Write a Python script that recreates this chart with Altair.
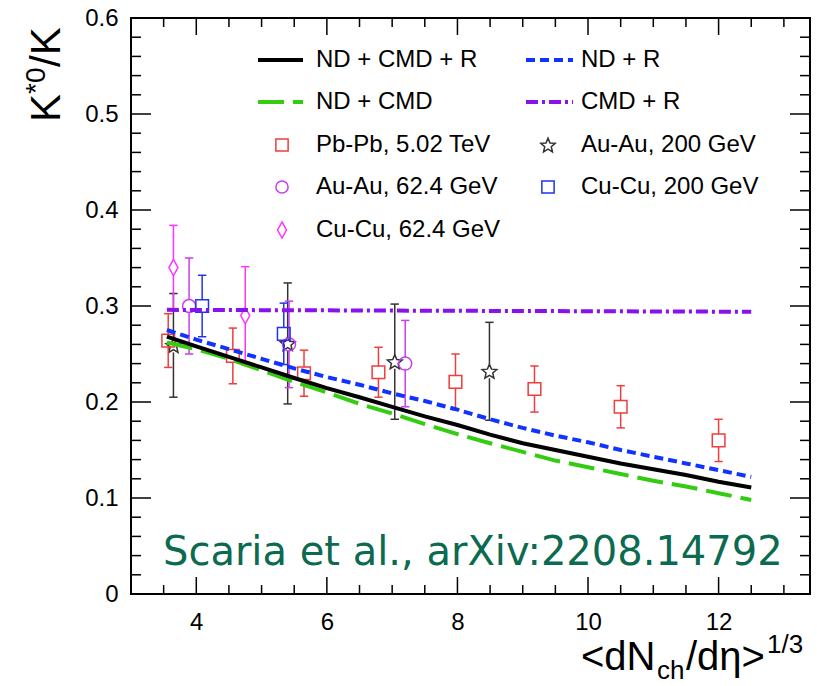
import math
import altair as alt
import pandas as pd

# ---------------- data ----------------
pbpb_x = [3.57, 4.56, 5.65, 6.79, 7.97, 9.18, 10.50, 12.00]
pbpb_y = [0.264, 0.248, 0.230, 0.231, 0.221, 0.2135, 0.195, 0.160]
pbpb_e = [0.028, 0.029, 0.024, 0.026, 0.029, 0.024, 0.022, 0.022]

auau200_x = [3.65, 5.40, 7.04, 8.49]
auau200_y = [0.259, 0.261, 0.242, 0.232]
auau200_e = [0.054, 0.063, 0.060, 0.051]

auau62_x = [3.89, 5.42, 7.20]
auau62_y = [0.300, 0.260, 0.240]
auau62_e = [0.050, 0.045, 0.045]

cucu62_x = [3.65, 4.75]
cucu62_y = [0.340, 0.290]
cucu62_e = [0.044, 0.051]

cucu200_x = [4.09, 5.34]
cucu200_y = [0.300, 0.271]
cucu200_e = [0.032, 0.032]

model_x = [3.55, 4.0, 4.5, 5.0, 5.5, 6.0, 6.5, 7.0, 7.5, 8.0, 8.5, 9.0, 9.5,
           10.0, 10.5, 11.0, 11.5, 12.0, 12.5]
nd_cmd_r = [0.268, 0.258, 0.247, 0.236, 0.225, 0.2145, 0.205, 0.195, 0.185,
            0.176, 0.166, 0.157, 0.150, 0.143, 0.136, 0.130, 0.124, 0.117, 0.111]
nd_r = [0.275, 0.265, 0.255, 0.245, 0.235, 0.226, 0.218, 0.209, 0.201,
        0.192, 0.182, 0.173, 0.165, 0.158, 0.150, 0.143, 0.136, 0.129, 0.122]
nd_cmd = [0.262, 0.255, 0.245, 0.233, 0.221, 0.210, 0.198, 0.188, 0.177,
          0.1665, 0.157, 0.148, 0.139, 0.132, 0.125, 0.118, 0.112, 0.105, 0.098]
cmd_r_x = [3.55, 12.5]
cmd_r = [0.296, 0.294]

x_major = [4, 6, 8, 10, 12]
x_minor = [3.5, 4.5, 5, 5.5, 6.5, 7, 7.5, 8.5, 9, 9.5, 10.5, 11, 11.5, 12.5, 13]
y_major = [0.0, 0.1, 0.2, 0.3, 0.4, 0.5, 0.6]
y_minor = [0.02, 0.04, 0.06, 0.08, 0.12, 0.14, 0.16, 0.18, 0.22, 0.24, 0.26,
           0.28, 0.32, 0.34, 0.36, 0.38, 0.42, 0.44, 0.46, 0.48, 0.52, 0.54,
           0.56, 0.58]

# ---------------- layout / style ----------------
W, H = 679, 576
FONT = "Liberation Sans"
xsc = alt.Scale(domain=[3, 13.4], nice=False, zero=False)
ysc = alt.Scale(domain=[0, 0.6], nice=False, zero=False)

AX = alt.Axis(values=x_major, ticks=False, domain=False, grid=False,
              labelFont=FONT, labelFontSize=24, labelColor="black",
              labelPadding=16, labelFlush=False, title=None)
AY = alt.Axis(values=y_major, format="~g", ticks=False, domain=False,
              grid=False, labelFont=FONT, labelFontSize=24, labelColor="black",
              labelPadding=13, labelFlush=False, title=None)

C_RED = "#f03c3c"
C_STAR = "#333333"
C_VIO = "#c83ef0"
C_MAG = "#ff33ff"
C_BLUE_SQ = "#2233ee"
C_BLACK = "#000000"
C_BLUE = "#1133ff"
C_GREEN = "#33cc11"
C_PURPLE = "#8811ee"

DASH_BLUE = [9, 5]
DASH_GREEN = [26, 9]
DASH_PURPLE = [12, 4, 3, 4]


def star_path(inner=0.45):
    pts = []
    for k in range(10):
        r = 1.0 if k % 2 == 0 else inner
        a = math.radians(-90 + 36 * k)
        pts.append((r * math.cos(a), r * math.sin(a) + 0.09))
    return "M" + "L".join(f"{px:.3f},{py:.3f}" for px, py in pts) + "Z"


STAR = star_path()
DIAMOND = "M0,-1L0.55,0L0,1L-0.55,0Z"

one = pd.DataFrame({"k": [0]})


def X(f):
    return alt.X(f, type="quantitative", scale=xsc, axis=AX)


def Y(f):
    return alt.Y(f, type="quantitative", scale=ysc, axis=AY)


layers = []


def xticks(vals, L):
    df = pd.DataFrame({"x": vals})
    b = alt.Chart(df).mark_rule(color="black", strokeWidth=1.5).encode(
        x=X("x"), y=alt.value(H), y2=alt.value(H - L))
    t = alt.Chart(df).mark_rule(color="black", strokeWidth=1.5).encode(
        x=X("x"), y=alt.value(0), y2=alt.value(L))
    return [b, t]


def yticks(vals, L):
    df = pd.DataFrame({"y": vals})
    l = alt.Chart(df).mark_rule(color="black", strokeWidth=1.5).encode(
        y=Y("y"), x=alt.value(0), x2=alt.value(L))
    r = alt.Chart(df).mark_rule(color="black", strokeWidth=1.5).encode(
        y=Y("y"), x=alt.value(W), x2=alt.value(W - L))
    return [l, r]


layers += xticks(x_major, 17) + xticks(x_minor, 9)
layers += yticks(y_major[1:-1], 20) + yticks(y_minor, 10)


def series(xv, yv, ev, color, shape, size, gap):
    df = pd.DataFrame({
        "x": xv, "y": yv,
        "lo": [a - b for a, b in zip(yv, ev)],
        "hi": [a + b for a, b in zip(yv, ev)],
    })
    base = alt.Chart(df)
    out = [
        base.mark_rule(color=color, strokeWidth=1.5, y2Offset=gap).encode(
            x=X("x"), y=Y("lo"), y2="y:Q"),
        base.mark_rule(color=color, strokeWidth=1.5, yOffset=-gap).encode(
            x=X("x"), y=Y("y"), y2="hi:Q"),
        base.mark_point(shape="stroke", size=70, color=color, strokeWidth=1.5,
                        opacity=1).encode(x=X("x"), y=Y("lo")),
        base.mark_point(shape="stroke", size=70, color=color, strokeWidth=1.5,
                        opacity=1).encode(x=X("x"), y=Y("hi")),
        base.mark_point(shape=shape, size=size, filled=False, color=color,
                        strokeWidth=1.5, opacity=1).encode(x=X("x"), y=Y("y")),
    ]
    return out


layers += series(auau200_x, auau200_y, auau200_e, C_STAR, STAR, 240, 7)
layers += series(cucu62_x, cucu62_y, cucu62_e, C_MAG, DIAMOND, 270, 8)
layers += series(auau62_x, auau62_y, auau62_e, C_VIO, "circle", 170, 6)
layers += series(cucu200_x, cucu200_y, cucu200_e, C_BLUE_SQ, "square", 160, 6)
layers += series(pbpb_x, pbpb_y, pbpb_e, C_RED, "square", 160, 6)


def curve(xv, yv, color, dash=None):
    df = pd.DataFrame({"x": xv, "y": yv})
    kw = dict(color=color, strokeWidth=4)
    if dash:
        kw["strokeDash"] = dash
    return alt.Chart(df).mark_line(**kw).encode(x=X("x"), y=Y("y"))


layers.append(curve(cmd_r_x, cmd_r, C_PURPLE, DASH_PURPLE))
layers.append(curve(model_x, nd_cmd, C_GREEN, DASH_GREEN))
layers.append(curve(model_x, nd_r, C_BLUE, DASH_BLUE))
layers.append(curve(model_x, nd_cmd_r, C_BLACK))

# ---------------- legend (drawn manually, ROOT style) ----------------
rows = [42, 84, 127, 169, 212]
c1_line, c1_text, c1_mark = (127, 172), 185, 151
c2_line, c2_text, c2_mark = (395, 442), 450, 417


def leg_text(x, y, s):
    return alt.Chart(one).mark_text(
        align="left", baseline="middle", font=FONT, fontSize=24,
        color="black").encode(x=alt.value(x), y=alt.value(y), text=alt.value(s))


def leg_line(xs, y, color, dash=None):
    kw = dict(color=color, strokeWidth=4)
    if dash:
        kw["strokeDash"] = dash
    return alt.Chart(one).mark_rule(**kw).encode(
        x=alt.value(xs[0]), x2=alt.value(xs[1]), y=alt.value(y))


def leg_mark(x, y, color, shape, size):
    return alt.Chart(one).mark_point(
        shape=shape, size=size, filled=False, color=color, strokeWidth=1.5,
        opacity=1).encode(x=alt.value(x), y=alt.value(y))


layers += [
    leg_line(c1_line, rows[0], C_BLACK), leg_text(c1_text, rows[0], "ND + CMD + R"),
    leg_line(c2_line, rows[0], C_BLUE, DASH_BLUE), leg_text(c2_text, rows[0], "ND + R"),
    leg_line(c1_line, rows[1], C_GREEN, DASH_GREEN), leg_text(c1_text, rows[1], "ND + CMD"),
    leg_line(c2_line, rows[1], C_PURPLE, DASH_PURPLE), leg_text(c2_text, rows[1], "CMD + R"),
    leg_mark(c1_mark, rows[2], C_RED, "square", 150), leg_text(c1_text, rows[2], "Pb-Pb, 5.02 TeV"),
    leg_mark(c2_mark, rows[2], C_STAR, STAR, 230), leg_text(c2_text, rows[2], "Au-Au, 200 GeV"),
    leg_mark(c1_mark, rows[3], C_VIO, "circle", 150), leg_text(c1_text, rows[3], "Au-Au, 62.4 GeV"),
    leg_mark(c2_mark, rows[3], C_BLUE_SQ, "square", 150), leg_text(c2_text, rows[3], "Cu-Cu, 200 GeV"),
    leg_mark(c1_mark, rows[4], C_MAG, DIAMOND, 260), leg_text(c1_text, rows[4], "Cu-Cu, 62.4 GeV"),
]

# ---------------- annotation ----------------
layers.append(
    alt.Chart(one).mark_text(
        align="left", baseline="alphabetic", font="DejaVu Sans", fontSize=40,
        color="#0b6a4f").encode(
        x=alt.value(32), y=alt.value(547),
        text=alt.value("Scaria et al., arXiv:2208.14792"))
)


# ---------------- axis titles (with sub/superscripts) ----------------
def txt(x, y, s, size, angle=0):
    kw = dict(align="left", baseline="alphabetic", font=FONT, fontSize=size,
              color="black")
    if angle:
        kw["angle"] = angle
    return alt.Chart(one).mark_text(**kw).encode(
        x=alt.value(x), y=alt.value(y), text=alt.value(s))


# x title: <dN_ch/dη>^{1/3}
layers += [
    txt(450, 652, "<dN", 40),
    txt(526, 661, "ch", 26),
    txt(555, 652, "/dη>", 40),
    txt(636, 635, "1/3", 26),
]
# y title: K*0/K (rotated)
layers += [
    txt(-71, 104, "K", 42, 270),
    txt(-86, 76, "*0", 28, 270),
    txt(-71, 49, "/K", 42, 270),
]

chart = alt.layer(*layers).properties(
    width=W, height=H,
    autosize=alt.AutoSizeParams(type="none"),
    padding={"left": 131, "top": 18, "right": 7, "bottom": 92},
    background="white",
).configure_view(stroke="black", strokeWidth=2)

chart.save("out.html", embed_options={"renderer": "svg", "actions": False})
